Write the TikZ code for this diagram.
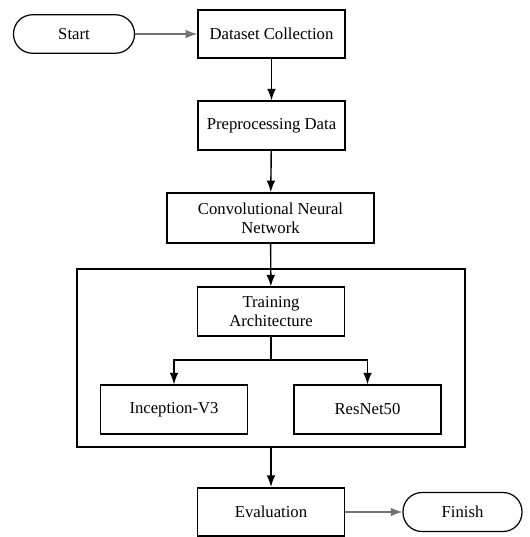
\documentclass[tikz,border=0pt]{standalone}
\usepackage{fontspec}
\setmainfont{Liberation Serif}
\usetikzlibrary{arrows.meta, positioning}

\begin{document}
\begin{tikzpicture}[
    x=0.02cm, y=-0.02cm, % one unit = one pixel of the layout
    >=Latex, % Set default arrow tip style
    font=\fontsize{9.5}{11}\selectfont,
    process/.style={draw, line width=0.9pt, minimum width=2.94cm, minimum height=0.97cm, align=center, inner sep=2pt}, % Style for process boxes
    terminal/.style={draw, line width=0.7pt, rounded corners=0.38cm, minimum width=2.42cm, minimum height=0.77cm}, % Style for start/finish
    flow/.style={->, line width=0.8pt}, % Vertical connectors
    side/.style={->, line width=0.8pt, black!55} % Horizontal connectors
]

    % Fix the page size
    \useasboundingbox (0, 0) rectangle (530, 537);

    % Outer frame around the training stage
    \node[draw, line width=0.9pt, minimum width=7.76cm, minimum height=3.56cm] (group) at (271, 358) {};

    % Main steps
    \node[terminal] (start) at (74, 34) {Start};
    \node[process] (dataset) at (271.5, 34) {Dataset Collection};
    \node[process] (prep) at (271.5, 125.5) {Preprocessing Data};
    \node[process, minimum width=4.14cm, minimum height=1.0cm] (cnn) at (270.5, 218) {Convolutional Neural\\Network};
    \node[process] (train) at (271, 311.5) {Training\\Architecture};
    \node[process] (incep) at (174, 409.5) {Inception-V3};
    \node[process] (resnet) at (367.5, 409.5) {ResNet50};
    \node[process] (eval) at (271, 512) {Evaluation};
    \node[terminal, minimum width=2.38cm, minimum height=0.78cm] (finish) at (462.5, 512) {Finish};

    % Split point under the training box
    \coordinate (split) at (271, 360);

    % Connectors
    \draw[side] (start) -- (dataset);
    \draw[flow] (dataset) -- (prep);
    \draw[flow] (prep) -- (cnn);
    \draw[flow] (cnn) -- (train);
    \draw[line width=0.8pt] (train) -- (split);
    \draw[flow] (split) -| (incep);
    \draw[flow] (split) -| (resnet);
    \draw[flow] (group) -- (eval);
    \draw[side] (eval) -- (finish);

\end{tikzpicture}
\end{document}
